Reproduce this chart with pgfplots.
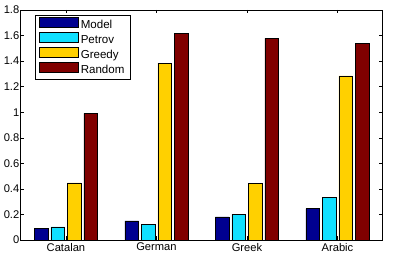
\documentclass[border=0pt]{standalone}
\usepackage{pgfplots}
\pgfplotsset{compat=1.18}
\usepackage{fontspec}
\setmainfont{Liberation Sans}
\definecolor{cmodel}{RGB}{0,0,144}
\definecolor{cpetrov}{RGB}{16,224,255}
\definecolor{cgreedy}{RGB}{255,208,0}
\definecolor{crandom}{RGB}{128,0,0}
\begin{document}
\begin{tikzpicture}
\useasboundingbox (-20.7bp,-24bp) rectangle (373.3bp,240bp);
\begin{axis}[
  scale only axis,
  width=362bp, height=230bp,
  at={(0,0)}, anchor=south west,
  xmin=0.5, xmax=4.5, ymin=0, ymax=1.8,
  xtick={1,2,3,4},
  xticklabels={Catalan,German,Greek,Arabic},
  ytick={0,0.2,...,1.8},
  tick align=inside,
  major tick length=3.5bp,
  axis line style={line width=0.6pt},
  every tick/.style={black,line width=0.5pt},
  tick label style={font=\fontsize{11.2}{13}\selectfont},
  /pgf/number format/assume math mode=true,
  yticklabel style={/pgf/number format/fixed, /pgf/number format/precision=1, inner sep=1.2pt},
  xticklabel style={inner sep=2pt, yshift=-1bp},
  legend cell align=left,
  legend style={at={(axis description cs:0.0395,0.978)}, anchor=north west,
    draw=black, line width=0.6pt, font=\fontsize{11.6}{13}\selectfont,
    inner xsep=4bp, inner ysep=1.5bp, row sep=0bp},
  legend image code/.code={\draw[#1,draw=black,line width=0.5pt] (0bp,-2bp) rectangle (39bp,8bp);},
]
\addplot[ybar, bar width=0.15, bar shift=-0.273, fill=cmodel, draw=black, line width=0.4pt]
  coordinates {(1,0.092) (2,0.149) (3,0.180) (4,0.245)};
\addplot[ybar, bar width=0.15, bar shift=-0.091, fill=cpetrov, draw=black, line width=0.4pt]
  coordinates {(1,0.102) (2,0.123) (3,0.201) (4,0.334)};
\addplot[ybar, bar width=0.15, bar shift=0.091, fill=cgreedy, draw=black, line width=0.4pt]
  coordinates {(1,0.448) (2,1.385) (3,0.442) (4,1.285)};
\addplot[ybar, bar width=0.15, bar shift=0.273, fill=crandom, draw=black, line width=0.4pt]
  coordinates {(1,0.990) (2,1.615) (3,1.578) (4,1.538)};
\legend{Model,Petrov,Greedy,Random}
\end{axis}
\end{tikzpicture}
\end{document}
